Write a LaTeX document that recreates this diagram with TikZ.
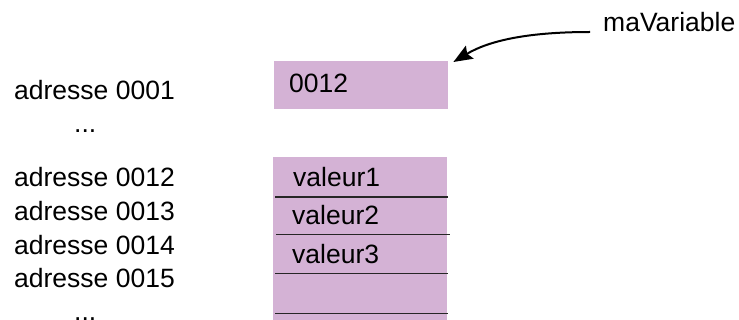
\documentclass[tikz,border=0pt]{standalone}
\usepackage{fontspec}
\setmainfont{Liberation Sans}
\usetikzlibrary{arrows.meta}
\definecolor{cellfill}{RGB}{212,178,213}
\tikzset{
  lbl/.style={anchor=base west, inner sep=0pt, font=\fontsize{26.5}{30}\selectfont},
  cell/.style={fill=cellfill, draw=none, inner sep=0pt, anchor=north west},
  sep/.style={line width=1.3pt, draw=black!85},
  ptr/.style={line width=2pt, -{Stealth[length=19pt,width=15pt,inset=3pt]}}
}
\begin{document}
\begin{tikzpicture}[x=1pt,y=-1pt]
  \useasboundingbox (0,0) rectangle (739,320);
  % pointer variable
  \node[cell, minimum width=174pt, minimum height=48pt] (var) at (274,61) {};
  \node[lbl] (varval) at (289,93) {0012};
  \node[lbl] (name) at (603,32) {maVariable};
  \coordinate (from) at (590,32);
  \coordinate (tip) at ([xshift=5pt,yshift=-1pt]var.north east);
  \draw[ptr] (from) .. controls (530,32) and (490,40) .. (tip);
  % memory block
  \node[cell, minimum width=174pt, minimum height=170pt] (mem) at (273,157) {};
  \coordinate (l1a) at (275,197);   \coordinate (l1b) at (448,197);
  \coordinate (l2a) at (276,234.5); \coordinate (l2b) at (450,234.5);
  \coordinate (l3a) at (275,273.5); \coordinate (l3b) at (448,273.5);
  \coordinate (l4a) at (275,313.5); \coordinate (l4b) at (448,313.5);
  \draw[sep] (l1a) -- (l1b);
  \draw[sep] (l2a) -- (l2b);
  \draw[sep] (l3a) -- (l3b);
  \draw[sep] (l4a) -- (l4b);
  \node[lbl] (v1) at (293,187) {valeur1};
  \node[lbl] (v2) at (292,225) {valeur2};
  \node[lbl] (v3) at (292,263.5) {valeur3};
  % addresses
  \node[lbl] (a1) at (14,100) {adresse 0001};
  \node[lbl] (d1) at (74,133) {...};
  \node[lbl] (a12) at (14,187) {adresse 0012};
  \node[lbl] (a13) at (14,221) {adresse 0013};
  \node[lbl] (a14) at (14,254.5) {adresse 0014};
  \node[lbl] (a15) at (14,288) {adresse 0015};
  \node[lbl] (d2) at (74,321) {...};
\end{tikzpicture}
\end{document}
